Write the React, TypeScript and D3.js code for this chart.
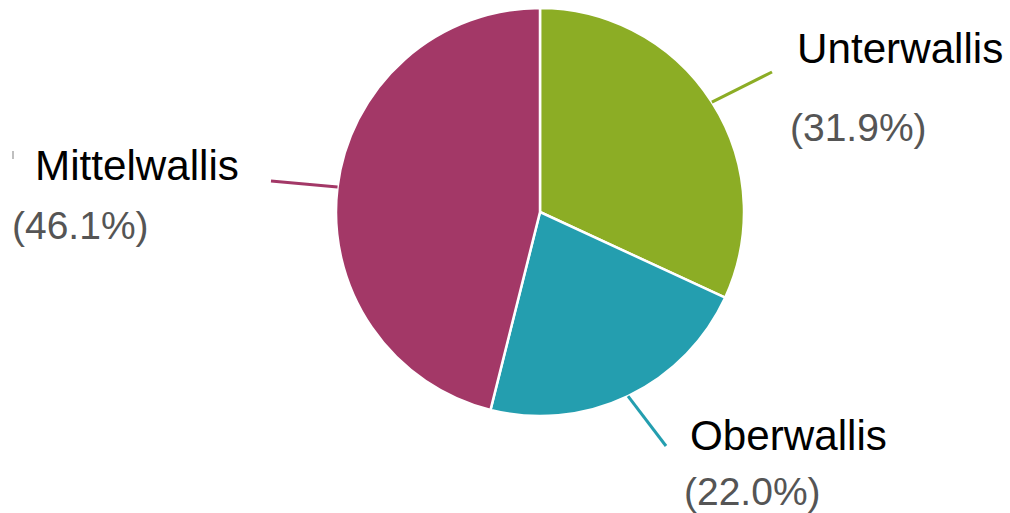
import React from "react";
import * as d3 from "d3";

const categories = ["Unterwallis", "Oberwallis", "Mittelwallis"];
const values = [31.9, 22.0, 46.1];
const colors = ["#8cad25", "#249eaf", "#a33867"];

// label layout (per slice): leader-line end, name anchor, percentage anchor
const layout = [
  { lineEnd: [772, 72], name: [797, 63], pct: [790, 141] },
  { lineEnd: [666, 446], name: [690, 450], pct: [684, 505] },
  { lineEnd: [271, 181], name: [35, 180], pct: [12, 239] },
];

export default function App() {
  const W = 1010, H = 513;
  const cx = 540, cy = 212, r = 204;
  const pie = d3.pie<number>().sort(null).value((d) => d)(values);
  const arc = d3.arc<d3.PieArcDatum<number>>().innerRadius(0).outerRadius(r);
  return (
    <svg width={W} height={H} style={{ position: "absolute", left: 0, top: 0, background: "#fff" }}>
      <g transform={`translate(${cx},${cy})`}>
        {pie.map((p, i) => (
          <path key={i} d={arc(p) as string} fill={colors[i]} stroke="#fff" strokeWidth={2.5} />
        ))}
      </g>
      {pie.map((p, i) => {
        const a = (p.startAngle + p.endAngle) / 2;
        const x0 = cx + r * Math.sin(a);
        const y0 = cy - r * Math.cos(a);
        const L = layout[i];
        return (
          <g key={i}>
            <line x1={x0} y1={y0} x2={L.lineEnd[0]} y2={L.lineEnd[1]} stroke={colors[i]} strokeWidth={3} />
            <text x={L.name[0]} y={L.name[1]} fontFamily="Liberation Sans, Arial, sans-serif" fontSize={42.2} fill="#000">
              {categories[i]}
            </text>
            <text x={L.pct[0]} y={L.pct[1]} fontFamily="Liberation Sans, Arial, sans-serif" fontSize={39} fill="#555">
              {`(${values[i].toFixed(1)}%)`}
            </text>
          </g>
        );
      })}
      <line x1={13} y1={151} x2={13} y2={159} stroke="#aaa" strokeWidth={1.5} />
    </svg>
  );
}
